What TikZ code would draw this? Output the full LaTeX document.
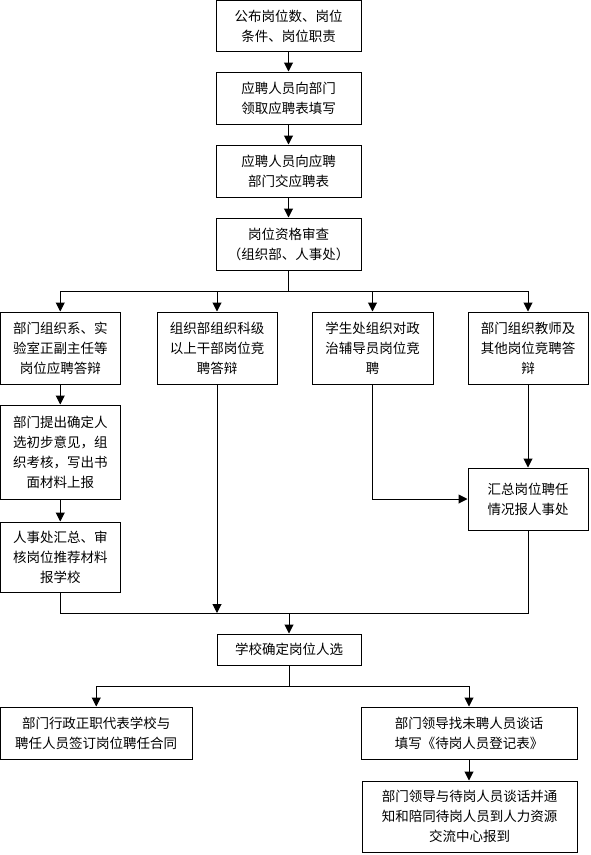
\documentclass[tikz,border=0pt]{standalone}
\usepackage{fontspec}
\newfontfamily\cjk{Noto Sans CJK SC}
\usetikzlibrary{arrows.meta}
\tikzset{
  box/.style={draw, line width=1pt, inner sep=0pt, align=center,
    font=\cjk\fontsize{13.5}{20}\selectfont},
  conn/.style={line width=1pt},
  arr/.style={line width=1pt, -{Triangle[width=9pt,length=9pt]}},
}
\begin{document}
\begin{tikzpicture}[x=1pt,y=-1pt]
\fill[white] (0,0) rectangle (591,855);
\useasboundingbox (0,0) rectangle (591,855);
% top column
\node[box, minimum width=145pt, minimum height=51pt] (b1) at (288.5,26) {公布岗位数、岗位\\条件、岗位职责};
\node[box, minimum width=145pt, minimum height=52pt] (b2) at (288.5,98) {应聘人员向部门\\领取应聘表填写};
\node[box, minimum width=145pt, minimum height=52pt] (b3) at (288.5,171) {应聘人员向应聘\\部门交应聘表};
\node[box, minimum width=145pt, minimum height=52pt] (b4) at (288.5,244) {岗位资格审查\\（组织部、人事处）};
% four branches
\node[box, minimum width=119.5pt, minimum height=72pt] (A) at (60.25,348) {部门组织系、实\\验室正副主任等\\岗位应聘答辩};
\node[box, minimum width=120pt, minimum height=72pt] (B) at (217,348) {组织部组织科级\\以上干部岗位竞\\聘答辩};
\node[box, minimum width=121pt, minimum height=72pt] (C) at (372.5,348) {学生处组织对政\\治辅导员岗位竞\\聘};
\node[box, minimum width=120pt, minimum height=72pt] (D) at (528,348) {部门组织教师及\\其他岗位竞聘答\\辩};
\node[box, minimum width=119.5pt, minimum height=94pt] (A2) at (60.25,452) {部门提出确定人\\选初步意见，组\\织考核，写出书\\面材料上报};
\node[box, minimum width=119.5pt, minimum height=70pt] (A3) at (60.25,557) {人事处汇总、审\\核岗位推荐材料\\报学校};
\node[box, minimum width=120pt, minimum height=62pt] (E) at (528,499) {汇总岗位聘任\\情况报人事处};
% bottom
\node[box, minimum width=144pt, minimum height=31pt] (F) at (289,649.5) {学校确定岗位人选};
\node[box, minimum width=191.5pt, minimum height=52pt] (G) at (96.25,733) {部门行政正职代表学校与\\聘任人员签订岗位聘任合同};
\node[box, minimum width=216pt, minimum height=52pt] (H) at (469,733) {部门领导找未聘人员谈话\\填写《待岗人员登记表》};
\node[box, minimum width=215pt, minimum height=71pt] (I) at (469.5,816.5) {部门领导与待岗人员谈话并通\\知和陪同待岗人员到人力资源\\交流中心报到};
% junction coordinates
\coordinate (j1) at (288.5,291);
\coordinate (j1l) at (60.25,291);
\coordinate (j1r) at (528,291);
\coordinate (j2) at (289,613);
\coordinate (j2l) at (60.25,613);
\coordinate (j2r) at (528,613);
\coordinate (j3) at (289,686);
\coordinate (j3l) at (96.25,686);
\coordinate (j3r) at (469,686);
% connectors
\draw[arr] (b1) -- (b2);
\draw[arr] (b2) -- (b3);
\draw[arr] (b3) -- (b4);
\draw[conn] (b4.south) -- (j1);
\draw[conn] (j1l) -- (j1r);
\draw[arr] (j1l) -- (A.north);
\draw[arr] (B.north |- j1) -- (B.north);
\draw[arr] (C.north |- j1) -- (C.north);
\draw[arr] (j1r) -- (D.north);
\draw[arr] (A) -- (A2);
\draw[arr] (A2) -- (A3);
\draw[arr] (D) -- (E);
\draw[arr] (C.south) |- (E.west);
\draw[conn] (A3.south) -- (j2l) -- (j2r) -- (E.south);
\draw[arr] (B.south) -- (B.south |- j2);
\draw[arr] (j2) -- (F.north);
\draw[conn] (F.south) -- (j3);
\draw[conn] (j3l) -- (j3r);
\draw[arr] (j3l) -- (G.north);
\draw[arr] (j3r) -- (H.north);
\draw[arr] (H.south) -- (H.south |- I.north);
\end{tikzpicture}
\end{document}
